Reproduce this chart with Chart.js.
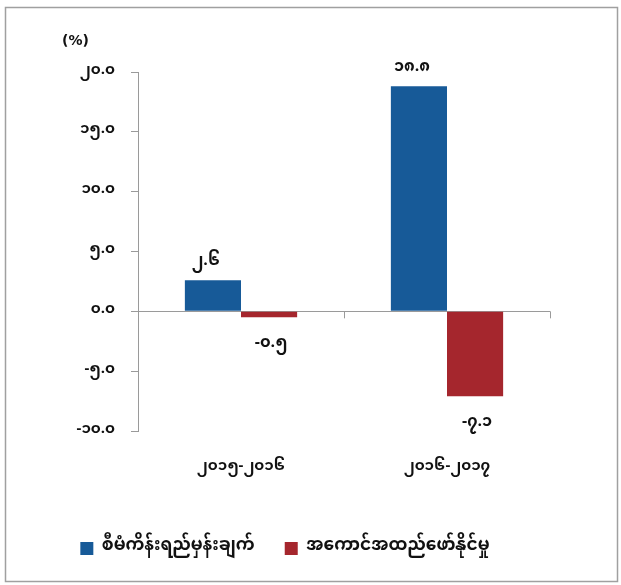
<!DOCTYPE html>
<html>
<head>
<meta charset="utf-8">
<script src="https://cdn.jsdelivr.net/npm/chart.js@4/dist/chart.umd.min.js"></script>
<style>
    html, body { margin: 0; padding: 0; background: #ffffff; }
    #wrap { position: relative; width: 621px; height: 585px; }
</style>
</head>
<body>
<div id="wrap"><canvas id="growthChart" width="621" height="585"></canvas></div>
<script>
/*
  Plan target vs. achievement (%)
*/

const categories = ["၂၀၁၅-၂၀၁၆", "၂၀၁၆-၂၀၁၇"]

const seriesNames = ["စီမံကိန်းရည်မှန်းချက်", "အကောင်အထည်ဖော်နိုင်မှု"]

const targetValues = [2.6, 18.8]

const actualValues = [-0.5, -7.1]

const yTickValues = [-10, -5, 0, 5, 10, 15, 20]

const MM_FONT = "'Noto Sans Myanmar', 'Padauk', 'Myanmar Text', 'Noto Sans', 'DejaVu Sans', sans-serif"

const mmDigits = ["၀", "၁", "၂", "၃", "၄", "၅", "၆", "၇", "၈", "၉"]

function toMyanmar(num) {
    return num.toFixed(1).replace(/[0-9]/g, d => mmDigits[Number(d)])
}

// value labels, outer frame, unit text and category ticks on the zero line
const decorPlugin = {
    id: "decor",
    afterDatasetsDraw(chart) {
        const ctx = chart.ctx
        const x = chart.scales.x
        const y = chart.scales.y

        ctx.save()
        ctx.fillStyle = "#111111"
        ctx.font = "bold 16px " + MM_FONT
        ctx.textAlign = "center"

        chart.data.datasets.forEach((ds, di) => {
            const meta = chart.getDatasetMeta(di)
            meta.data.forEach((bar, i) => {
                const v = ds.data[i]
                if (v >= 0) {
                    ctx.textBaseline = "bottom"
                    ctx.fillText(toMyanmar(v), bar.x - 7, bar.y - 9)
                } else {
                    ctx.textBaseline = "top"
                    ctx.fillText(toMyanmar(v), bar.x + 2, bar.y + 20)
                }
            })
        })

        // small ticks on the zero line between categories
        const zeroY = y.getPixelForValue(0)
        ctx.strokeStyle = "#9a9a9a"
        ctx.lineWidth = 1
        const step = (x.right - x.left) / categories.length
        for (let i = 1; i <= categories.length; i++) {
            const px = Math.round(x.left + step * i) + 0.5
            ctx.beginPath()
            ctx.moveTo(px, zeroY)
            ctx.lineTo(px, zeroY + 7)
            ctx.stroke()
        }

        // unit
        ctx.font = "bold 14px 'DejaVu Sans', sans-serif"
        ctx.textAlign = "left"
        ctx.textBaseline = "middle"
        ctx.fillText("(%)", 62, 41)

        // outer frame
        ctx.strokeStyle = "#a0a0a0"
        ctx.lineWidth = 1.5
        ctx.strokeRect(5.5, 7.5, 612, 574)
        ctx.restore()
    }
}

const chart = new Chart(document.getElementById("growthChart"), {

    type: "bar",

    data: {
        labels: categories,
        datasets: [
            {
                label: seriesNames[0],
                data: targetValues,
                backgroundColor: "#175a98",
                borderWidth: 0
            },
            {
                label: seriesNames[1],
                data: actualValues,
                backgroundColor: "#a5262d",
                borderWidth: 0
            }
        ]
    },

    options: {
        responsive: false,
        animation: false,
        devicePixelRatio: 1,
        layout: {
            padding: { left: 20, right: 71, top: 72, bottom: 18 }
        },
        datasets: {
            bar: {
                categoryPercentage: 0.545,
                barPercentage: 1
            }
        },
        plugins: {
            legend: {
                position: "bottom",
                labels: {
                    color: "#111111",
                    font: { family: MM_FONT, size: 17, weight: "bold" },
                    boxWidth: 13,
                    boxHeight: 13,
                    padding: 30
                }
            },
            tooltip: { enabled: false }
        },
        scales: {
            x: {
                grid: { display: false },
                border: { display: false },
                ticks: {
                    color: "#111111",
                    padding: 20,
                    font: { family: MM_FONT, size: 15, weight: "bold" }
                },
                afterFit(scale) {
                    scale.height = 79
                }
            },
            y: {
                min: -10,
                max: 20,
                afterBuildTicks(scale) {
                    scale.ticks = yTickValues.map(v => ({ value: v }))
                },
                border: { display: true, color: "#9a9a9a", width: 1 },
                grid: {
                    drawOnChartArea: true,
                    color: c => (c.tick && c.tick.value === 0 ? "#9a9a9a" : "rgba(0,0,0,0)"),
                    tickColor: "#9a9a9a",
                    tickLength: 7
                },
                ticks: {
                    color: "#111111",
                    padding: 16,
                    font: { family: MM_FONT, size: 15, weight: "bold" },
                    callback: v => toMyanmar(v)
                },
                afterFit(scale) {
                    scale.width = 118
                }
            }
        }
    },

    plugins: [decorPlugin]
})
</script>
</body>
</html>
